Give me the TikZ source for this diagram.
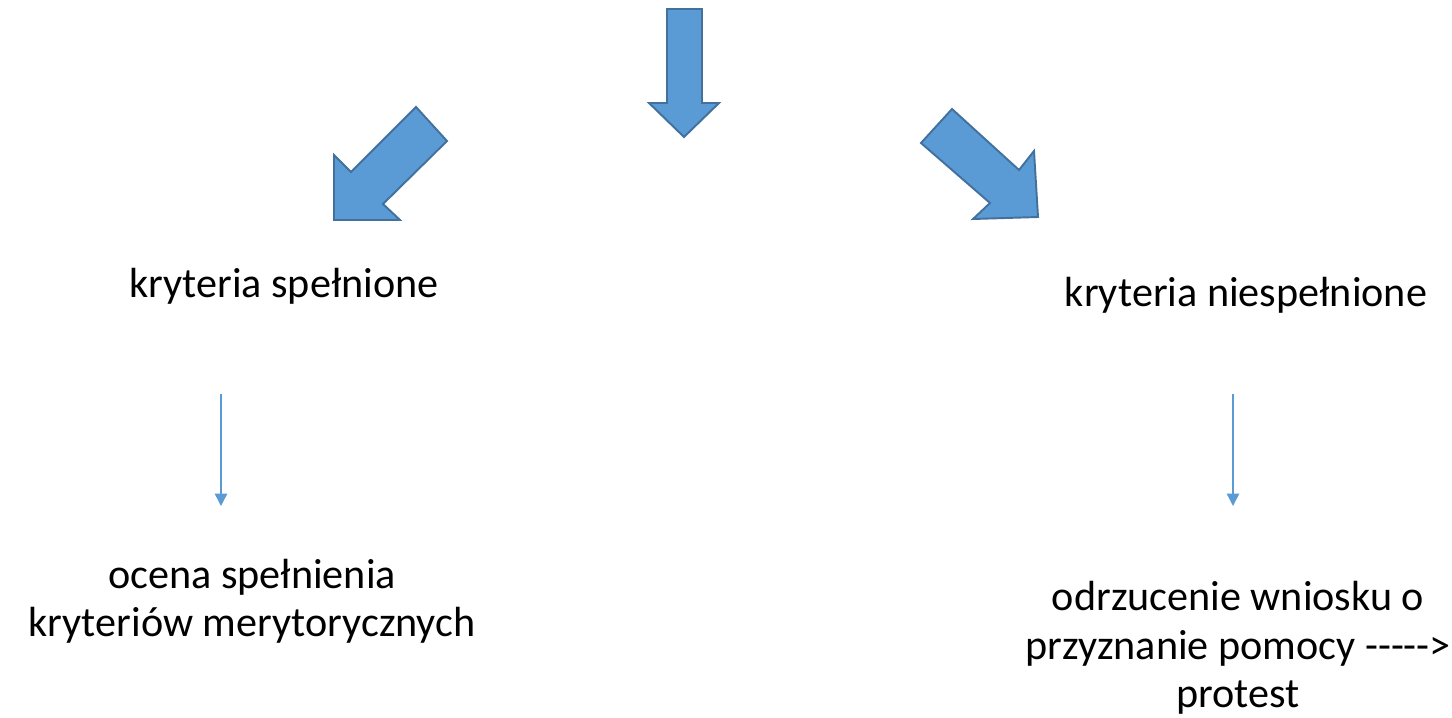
\documentclass[tikz,border=0pt]{standalone}
\usepackage{fontspec}
\setmainfont{Carlito}[Ligatures=TeXOff]
\usepackage{xcolor}
\usetikzlibrary{arrows.meta}

\definecolor{arrowfill}{HTML}{5B9BD5}
\definecolor{arrowline}{HTML}{41719C}

\tikzset{
	bigarrow/.style = {fill = arrowfill, draw = arrowline, line width = 1.1pt, line join = miter},
	thinarrow/.style = {draw = arrowfill, line width = .8pt, -{Triangle[width=7pt,length=7pt]}},
	label/.style = {inner sep = 0pt, font = \fontsize{24}{27.6}\selectfont, align = center}
}

\begin{document}
\begin{tikzpicture}[x = .02cm, y = -.02cm]
	\useasboundingbox (0,0) rectangle (1452,717);
	% big arrows
	\draw[bigarrow] (667,9) -- (702,9) -- (702,103) -- (719,103) -- (684,137) -- (649,103) -- (667,103) -- cycle;
	\draw[bigarrow] (416,107) -- (447,141) -- (383,204) -- (400,220) -- (334,220) -- (334,155) -- (351,172) -- cycle;
	\draw[bigarrow] (921,143) -- (952,109) -- (1019,170) -- (1034,151) -- (1038,217) -- (973,219) -- (990,203) -- cycle;
	% texts
	\node[label, anchor = base] (spelnione) at (284,297) {kryteria spełnione};
	\node[label, anchor = base] (niespelnione) at (1246,306) {kryteria niespełnione};
	\node[label] (ocena) at (252,601) {ocena spełnienia\\kryteriów merytorycznych};
	\node[label] (odrzucenie) at (1238,648) {odrzucenie wniosku o\\przyznanie pomocy ----->\\protest};
	% thin arrows
	\coordinate (lstart) at (221,394);
	\coordinate (lend) at (221,506);
	\coordinate (rstart) at (1233,394);
	\coordinate (rend) at (1233,506);
	\draw[thinarrow] (lstart) -- (lend);
	\draw[thinarrow] (rstart) -- (rend);
\end{tikzpicture}
\end{document}
